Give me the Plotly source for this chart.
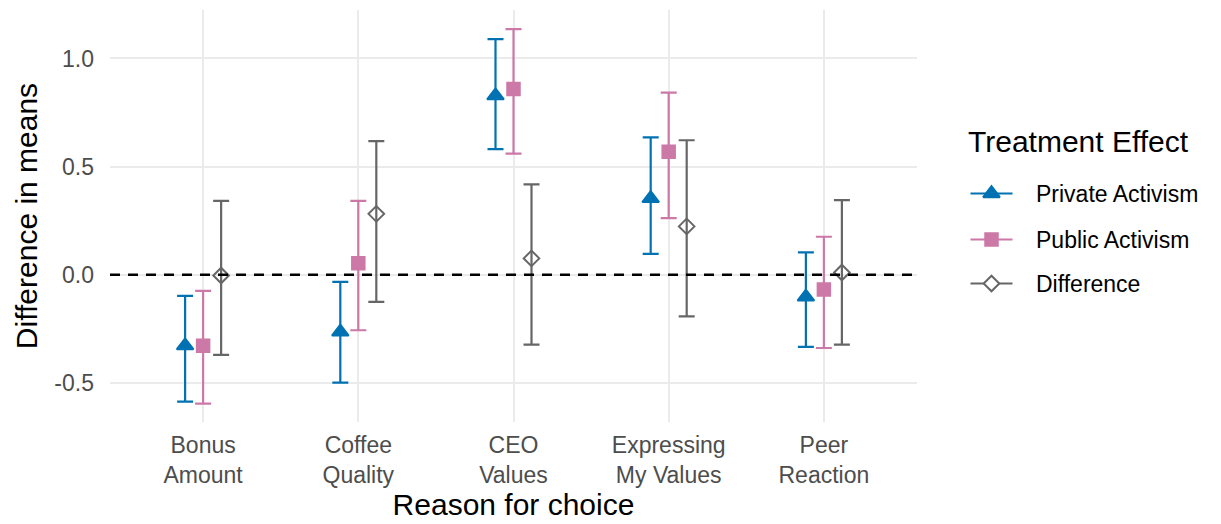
import plotly.graph_objects as go

# Reasons shown on the x axis
categories = ["Bonus<br>Amount", "Coffee<br>Quality", "CEO<br>Values",
              "Expressing<br>My Values", "Peer<br>Reaction"]

# Treatment effect estimates with 95% confidence bounds
private_est = [-0.327, -0.264, 0.828, 0.353, -0.102]
private_lo = [-0.586, -0.498, 0.581, 0.097, -0.333]
private_hi = [-0.097, -0.032, 1.089, 0.635, 0.104]

public_est = [-0.328, 0.054, 0.859, 0.569, -0.068]
public_lo = [-0.595, -0.256, 0.560, 0.262, -0.338]
public_hi = [-0.074, 0.342, 1.136, 0.842, 0.176]

diff_est = [-0.003, 0.282, 0.076, 0.224, 0.011]
diff_lo = [-0.370, -0.125, -0.322, -0.192, -0.322]
diff_hi = [0.342, 0.618, 0.418, 0.622, 0.345]

y_ticks = [-0.5, 0.0, 0.5, 1.0]
y_tick_labels = ["-0.5", "0.0", "0.5", "1.0"]

series = [
    # name, estimates, low, high, colour, marker symbol, marker size, dodge offset, hollow
    ("Private Activism", private_est, private_lo, private_hi, "#0072B2", "triangle-up", 14.5, -0.116, False),
    ("Public Activism", public_est, public_lo, public_hi, "#CC79A7", "square", 12.5, 0.0, False),
    ("Difference", diff_est, diff_lo, diff_hi, "#666666", "diamond-open", 12, 0.116, True),
]

FONT = "Liberation Sans, Arial, Helvetica, sans-serif"
TICK_SIZE = 23
TITLE_SIZE = 30

fig = go.Figure()

positions = list(range(1, len(categories) + 1))
for name, est, lo, hi, color, symbol, size, offset, hollow in series:
    xs = [p + offset for p in positions]
    fig.add_trace(go.Scatter(
        x=xs, y=est, mode="markers", name=name, showlegend=False,
        marker=dict(symbol=symbol, size=size, color=color,
                    line=dict(color=color, width=2)),
        error_y=dict(type="data", symmetric=False,
                     array=[h - e for h, e in zip(hi, est)],
                     arrayminus=[e - l for e, l in zip(est, lo)],
                     color=color, thickness=2.2, width=8),
        xaxis="x", yaxis="y",
    ))

# Legend panel drawn on its own pixel-scaled axes to the right of the plot
LEG_X0, LEG_X1 = 970.5, 1012.5
LEG_TEXT_X = 1034
LEG_ROWS = [193.5, 239.5, 283.5]
for (name, _, _, _, color, symbol, size, _, hollow), ly in zip(series, LEG_ROWS):
    fig.add_trace(go.Scatter(
        x=[LEG_X0, LEG_X1], y=[ly, ly], mode="lines", showlegend=False,
        line=dict(color=color, width=2.2), hoverinfo="skip",
        xaxis="x2", yaxis="y2",
    ))
    fig.add_trace(go.Scatter(
        x=[(LEG_X0 + LEG_X1) / 2], y=[ly], mode="markers", showlegend=False,
        marker=dict(symbol=symbol.replace("-open", ""), size=size,
                    color="white" if hollow else color,
                    line=dict(color=color, width=2)),
        hoverinfo="skip", xaxis="x2", yaxis="y2",
    ))
    fig.add_annotation(x=LEG_TEXT_X, y=ly, xref="x2", yref="y2", text=name,
                       showarrow=False, xanchor="left", yanchor="middle",
                       font=dict(size=TICK_SIZE, color="black", family=FONT))
fig.add_annotation(x=966, y=141, xref="x2", yref="y2", text="Treatment Effect",
                   showarrow=False, xanchor="left", yanchor="middle",
                   font=dict(size=TITLE_SIZE, color="black", family=FONT))

# reference line at zero
fig.add_shape(type="line", xref="x domain", yref="y", x0=0, x1=1, y0=0, y1=0,
              line=dict(color="black", width=2.5, dash="10px,8px"))

MAIN_RIGHT = (917 - 110) / (1221 - 110)

fig.update_layout(
    width=1221, height=524,
    margin=dict(l=110, r=0, t=10, b=102),
    plot_bgcolor="white", paper_bgcolor="white",
    font=dict(family=FONT, color="#4D4D4D"),
    showlegend=False,
    xaxis=dict(
        domain=[0, MAIN_RIGHT],
        range=[0.4, 5.6], tickmode="array", tickvals=positions, ticktext=categories,
        showgrid=True, gridcolor="#EBEBEB", gridwidth=1.5, zeroline=False,
        tickfont=dict(size=TICK_SIZE, color="#4D4D4D"), ticks="",
        ticklabelstandoff=7,
        title=dict(text="Reason for choice", font=dict(size=TITLE_SIZE, color="black"), standoff=6),
    ),
    yaxis=dict(
        range=[-0.68, 1.224], tickmode="array", tickvals=y_ticks, ticktext=y_tick_labels,
        showgrid=True, gridcolor="#EBEBEB", gridwidth=1.5, zeroline=False,
        tickfont=dict(size=TICK_SIZE, color="#4D4D4D"), ticks="",
        ticklabelstandoff=15,
        title=dict(text="Difference in means", font=dict(size=TITLE_SIZE, color="black"), standoff=7),
    ),
    xaxis2=dict(domain=[MAIN_RIGHT, 1], range=[917, 1221], visible=False,
                anchor="y2", fixedrange=True),
    yaxis2=dict(domain=[0, 1], range=[422, 10], visible=False,
                anchor="x2", fixedrange=True),
)

fig.write_html("out.html")
